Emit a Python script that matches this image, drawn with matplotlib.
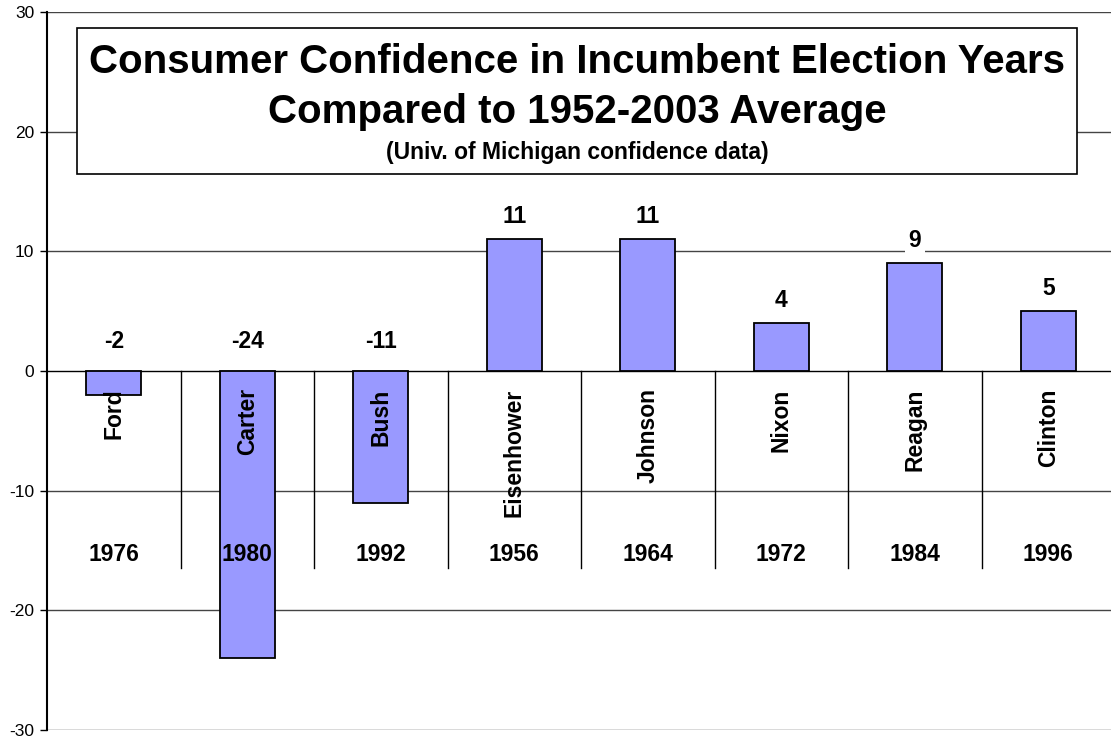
import matplotlib.pyplot as plt
from matplotlib.patches import Rectangle

plt.rcParams['font.family'] = ['Liberation Sans', 'DejaVu Sans']
plt.rcParams['axes.unicode_minus'] = False

# data
presidents = ['Ford', 'Carter', 'Bush', 'Eisenhower', 'Johnson', 'Nixon', 'Reagan', 'Clinton']
years = ['1976', '1980', '1992', '1956', '1964', '1972', '1984', '1996']
confidence = [-2, -24, -11, 11, 11, 4, 9, 5]

fig = plt.figure(figsize=(11.11, 7.38), dpi=100)
ax = fig.add_axes([47 / 1111, 8 / 738, 1068 / 1111, 718 / 738])

x = list(range(len(presidents)))
ax.set_xlim(-0.5, len(presidents) - 0.5)
ax.set_ylim(-30, 30)
ax.set_yticks([-30, -20, -10, 0, 10, 20, 30])
ax.tick_params(axis='y', labelsize=12.5, length=5, width=1, pad=4)
ax.set_xticks([])

for g in [-30, -20, -10, 10, 20, 30]:
    ax.axhline(g, color='#444444', lw=1, zorder=0)
ax.axhline(0, color='black', lw=1, zorder=1)

for s in ['top', 'right', 'bottom']:
    ax.spines[s].set_visible(False)
ax.spines['left'].set_linewidth(1.5)

ax.bar(x, confidence, width=0.41, color='#9999ff', edgecolor='black', lw=1.3, zorder=2)

# category separators (multi-level axis)
for i in range(1, len(presidents) + 1):
    ax.plot([i - 0.5, i - 0.5], [0, -16.5], color='black', lw=1, zorder=1)

for i, (name, yr, v) in enumerate(zip(presidents, years, confidence)):
    ax.text(i, -1.45, name, rotation=90, ha='center', va='top',
            fontsize=16.5, fontweight='bold', zorder=3)
    ax.text(i, -15.3, yr, ha='center', va='center',
            fontsize=16.5, fontweight='bold', zorder=3)
    base = max(v, 0)
    ax.annotate(str(v), (i, base), xytext=(0, 11 if v > 0 else 18),
                textcoords='offset pixels', ha='center', va='bottom',
                fontsize=16.5, fontweight='bold', zorder=3,
                bbox=dict(boxstyle='square,pad=0.15', fc='white', ec='none'))

# title box
fig.patches.append(Rectangle((77 / 1111, 1 - 174 / 738), 1000 / 1111, 146 / 738,
                             transform=fig.transFigure, fc='white', ec='black',
                             lw=1.2, zorder=5))
fig.text(577 / 1111, 1 - 62 / 738, 'Consumer Confidence in Incumbent Election Years',
         ha='center', va='center', fontsize=29, fontweight='bold', zorder=6)
fig.text(577 / 1111, 1 - 112 / 738, 'Compared to 1952-2003 Average',
         ha='center', va='center', fontsize=29, fontweight='bold', zorder=6)
fig.text(577 / 1111, 1 - 152 / 738, '(Univ. of Michigan confidence data)',
         ha='center', va='center', fontsize=16.5, fontweight='bold', zorder=6)

fig.savefig('out.png', dpi=100)
